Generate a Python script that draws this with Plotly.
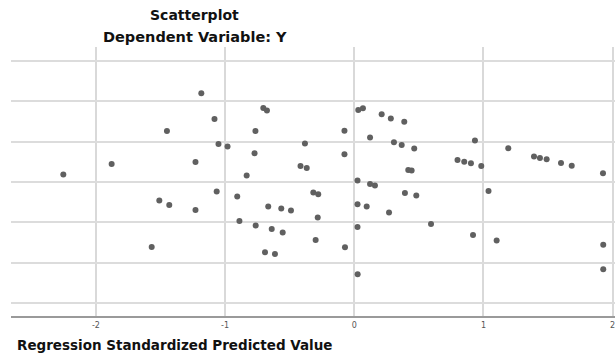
import plotly.graph_objects as go

# Regression standardized predicted value (x) and standardized residual (y)
pred = [-2.252, -1.878, -1.509, -1.432, -1.568, -1.450, -1.229, -1.229, -1.184, -1.082,
        -1.065, -1.051, -0.981, -0.906, -0.889, -0.833, -0.772, -0.765, -0.763, -0.704,
        -0.676, -0.691, -0.614, -0.666, -0.565, -0.490, -0.639, -0.554, -0.416, -0.368,
        -0.382, -0.317, -0.279, -0.283, -0.299, -0.072, -0.076, -0.076, 0.031, 0.067,
        0.025, 0.122, 0.160, 0.025, 0.096, 0.025, 0.026, 0.122, 0.212, 0.283,
        0.387, 0.307, 0.367, 0.464, 0.418, 0.444, 0.392, 0.480, 0.269, 0.594,
        0.934, 0.799, 0.851, 0.903, 0.983, 1.039, 0.919, 1.102, 1.192, 1.391,
        1.437, 1.489, 1.600, 1.683, 1.925, 1.927, 1.927]
resid = [0.186, 0.446, -0.463, -0.569, -1.609, 1.262, -0.693, 0.495, 2.196, 1.559,
         -0.235, 0.936, 0.874, -0.364, -0.965, 0.161, 0.710, 1.262, -1.082, 1.832,
         1.770, -1.740, -1.782, -0.611, -0.661, -0.710, -1.163, -1.255, 0.391, 0.347,
         0.953, -0.265, -0.304, -0.884, -1.436, -1.616, 1.267, 0.686, 1.782, 1.824,
         0.032, -0.054, -0.092, -0.552, -0.611, -1.114, -2.285, 1.101, 1.678, 1.567,
         1.490, 0.983, 0.916, 0.824, 0.297, 0.280, -0.272, -0.339, -0.755, -1.040,
         1.022, 0.545, 0.502, 0.463, 0.396, -0.223, -1.312, -1.448, 0.834, 0.626,
         0.594, 0.562, 0.470, 0.403, 0.215, -1.559, -2.161]

x_ticks = [-2, -1, 0, 1, 2]
x_tick_labels = ["-2", "-1", "0", "1", "2"]
y_grid = [-3, -2, -1, 0, 1, 2, 3]

title_main = "Scatterplot"
title_sub = "Dependent Variable: Y"
x_title = "Regression Standardized Predicted Value"

fig = go.Figure()
fig.add_trace(go.Scatter(
    x=pred, y=resid, mode="markers",
    marker=dict(size=6, color="#606060", line=dict(width=0)),
    hoverinfo="x+y", showlegend=False,
))

fig.update_layout(
    width=615, height=354,
    margin=dict(l=11, r=0, t=47, b=38),
    paper_bgcolor="white", plot_bgcolor="white",
    font=dict(family="DejaVu Sans", color="#111"),
    xaxis=dict(
        range=[-2.657, 2.018],
        tickvals=x_ticks, ticktext=x_tick_labels,
        tickfont=dict(size=8, color="#555"),
        ticklabeloverflow="allow",
        showgrid=True, gridcolor="#d9d9d9", gridwidth=1.5,
        zeroline=False,
        showline=True, linecolor="#9a9a9a", linewidth=2,
        ticks="", fixedrange=True,
    ),
    yaxis=dict(
        range=[-3.32, 3.34],
        tickvals=y_grid, showticklabels=False,
        showgrid=True, gridcolor="#dcdcdc", gridwidth=1.5,
        zeroline=False, showline=False, ticks="", fixedrange=True,
    ),
    annotations=[
        dict(text="<b>" + title_main + "</b>", xref="paper", yref="paper",
             x=0.3046, y=1.119, xanchor="center", yanchor="middle",
             showarrow=False, font=dict(size=14, color="#111")),
        dict(text="<b>" + title_sub + "</b>", xref="paper", yref="paper",
             x=0.3046, y=1.037, xanchor="center", yanchor="middle",
             showarrow=False, font=dict(size=14.5, color="#111")),
        dict(text="<b>" + x_title + "</b>", xref="paper", yref="paper",
             x=0.0066, y=-0.108, xanchor="left", yanchor="middle",
             showarrow=False, font=dict(size=13.5, color="#111")),
    ],
)

fig.write_html("out.html", config={"displayModeBar": False},
               post_script="document.body.style.margin='0';")
